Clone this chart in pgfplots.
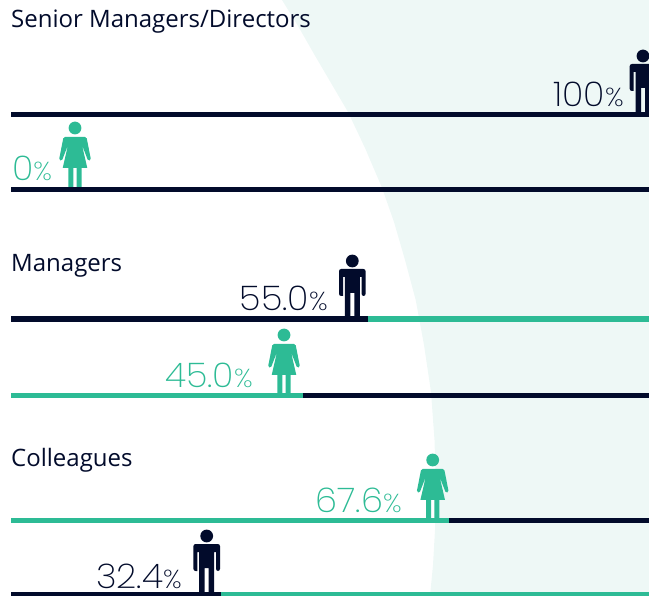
\documentclass[border=0pt]{standalone}
\usepackage{pgfplots}
\pgfplotsset{compat=1.18}
\usepackage{fontspec}
\setmainfont{Open Sans}
\newfontfamily\lightf[FakeStretch=1.04]{Poppins ExtraLight}
\definecolor{navy}{HTML}{020B2B}
\definecolor{teal}{HTML}{2DBB95}
\definecolor{pale}{HTML}{EEF8F6}
% icons with feet at the origin; y up, units in pt (= px)
\pgfdeclareplotmark{man}{%
  \pgfpathcircle{\pgfpoint{0pt}{56pt}}{6.4pt}\pgfusepath{fill}
  \pgfsetcornersarced{\pgfpoint{2.2pt}{2.2pt}}
  \pgfpathmoveto{\pgfpoint{0pt}{48pt}}
  \pgfpathlineto{\pgfpoint{13.3pt}{48pt}}
  \pgfpathlineto{\pgfpoint{13.3pt}{21pt}}
  \pgfpathlineto{\pgfpoint{9.3pt}{21pt}}
  \pgfsetcornersarced{\pgfpointorigin}
  \pgfpathlineto{\pgfpoint{9.3pt}{40pt}}
  \pgfpathlineto{\pgfpoint{7.5pt}{40pt}}
  \pgfpathlineto{\pgfpoint{7.5pt}{-1pt}}
  \pgfpathlineto{\pgfpoint{2pt}{-1pt}}
  \pgfpathlineto{\pgfpoint{2pt}{24pt}}
  \pgfpathlineto{\pgfpoint{-2pt}{24pt}}
  \pgfpathlineto{\pgfpoint{-2pt}{-1pt}}
  \pgfpathlineto{\pgfpoint{-7.5pt}{-1pt}}
  \pgfpathlineto{\pgfpoint{-7.5pt}{40pt}}
  \pgfpathlineto{\pgfpoint{-9.3pt}{40pt}}
  \pgfpathlineto{\pgfpoint{-9.3pt}{21pt}}
  \pgfsetcornersarced{\pgfpoint{2.2pt}{2.2pt}}
  \pgfpathlineto{\pgfpoint{-13.3pt}{21pt}}
  \pgfpathlineto{\pgfpoint{-13.3pt}{48pt}}
  \pgfpathclose\pgfusepath{fill}}
\pgfdeclareplotmark{woman}{%
  \pgfpathcircle{\pgfpoint{0pt}{58pt}}{6.4pt}\pgfusepath{fill}
  \pgfsetcornersarced{\pgfpoint{1.5pt}{1.5pt}}
  \pgfpathmoveto{\pgfpoint{0pt}{49pt}}
  \pgfpathlineto{\pgfpoint{11.5pt}{49pt}}
  \pgfpathlineto{\pgfpoint{16pt}{26pt}}
  \pgfpathlineto{\pgfpoint{13.2pt}{25pt}}
  \pgfsetcornersarced{\pgfpointorigin}
  \pgfpathlineto{\pgfpoint{7pt}{41pt}}
  \pgfpathlineto{\pgfpoint{12.3pt}{18pt}}
  \pgfpathlineto{\pgfpoint{6.7pt}{18pt}}
  \pgfpathlineto{\pgfpoint{6.7pt}{-1pt}}
  \pgfpathlineto{\pgfpoint{1.7pt}{-1pt}}
  \pgfpathlineto{\pgfpoint{1.7pt}{18pt}}
  \pgfpathlineto{\pgfpoint{-1.7pt}{18pt}}
  \pgfpathlineto{\pgfpoint{-1.7pt}{-1pt}}
  \pgfpathlineto{\pgfpoint{-6.7pt}{-1pt}}
  \pgfpathlineto{\pgfpoint{-6.7pt}{18pt}}
  \pgfpathlineto{\pgfpoint{-12.3pt}{18pt}}
  \pgfpathlineto{\pgfpoint{-7pt}{41pt}}
  \pgfsetcornersarced{\pgfpoint{1.5pt}{1.5pt}}
  \pgfpathlineto{\pgfpoint{-13.2pt}{25pt}}
  \pgfpathlineto{\pgfpoint{-16pt}{26pt}}
  \pgfpathlineto{\pgfpoint{-11.5pt}{49pt}}
  \pgfpathclose\pgfusepath{fill}}
\newcommand{\bigpct}[2]{{\color{#1}\lightf\fontsize{34}{34}\selectfont #2{\fontsize{26}{26}\selectfont\%}}}
\begin{document}
\begin{tikzpicture}[x=1pt,y=1pt]
\begin{axis}[name=ax,
  scale only axis, width=649pt, height=596pt,
  xmin=0, xmax=649, ymin=0, ymax=596, y dir=reverse,
  axis lines=none, clip=true, clip mode=global]
% pale background
\addplot[fill=pale,draw=none] coordinates {(282,0)(298,26)(314,54)(331,83)(348,112)(365,148)(381.7,187)(394,222)(405,260)(415.7,300)(424,345)(431,392)(434.5,440)(436,490)(435,530)(433,565)(430,596)(649,596)(649,0)} \closedcycle;
% bars
\addplot[navy,line width=5.5pt] coordinates {(11,114.7)(649,114.7)};
\addplot[navy,line width=5.5pt] coordinates {(11,189.3)(649,189.3)};
\addplot[navy,line width=5.5pt] coordinates {(11,319.2)(367.7,319.2)};
\addplot[teal,line width=5.5pt] coordinates {(367.7,319.2)(649,319.2)};
\addplot[teal,line width=5.5pt] coordinates {(11,395.7)(302.7,395.7)};
\addplot[navy,line width=5.5pt] coordinates {(302.7,395.7)(649,395.7)};
\addplot[teal,line width=5.5pt] coordinates {(11,520.3)(449,520.3)};
\addplot[navy,line width=5.5pt] coordinates {(449,520.3)(649,520.3)};
\addplot[navy,line width=5.5pt] coordinates {(11,594.3)(221,594.3)};
\addplot[teal,line width=5.5pt] coordinates {(221,594.3)(649,594.3)};
% icons
\addplot[only marks,mark=man,color=navy,mark options={fill=navy,draw=none}] coordinates {(643,112)(352.3,317)(206.7,592)};
\addplot[only marks,mark=woman,color=teal,mark options={fill=teal,draw=none}] coordinates {(75,186)(284,393)(432.7,518)};
% labels
\node[anchor=base west,inner sep=0pt,navy,font=\fontsize{24}{24}\selectfont] at (axis cs:11,28) {Senior Managers/Directors};
\node[anchor=base west,inner sep=0pt,navy,font=\fontsize{24}{24}\selectfont] at (axis cs:11,272) {Managers};
\node[anchor=base west,inner sep=0pt,navy,font=\fontsize{24}{24}\selectfont] at (axis cs:11,467) {Colleagues};
\node[anchor=base east,inner sep=0pt] at (axis cs:624,107) {\bigpct{navy}{100}};
\node[anchor=base west,inner sep=0pt] at (axis cs:12,181) {\bigpct{teal}{0}};
\node[anchor=base east,inner sep=0pt] at (axis cs:328,311) {\bigpct{navy}{55.0}};
\node[anchor=base east,inner sep=0pt] at (axis cs:253,388) {\bigpct{teal}{45.0}};
\node[anchor=base east,inner sep=0pt] at (axis cs:402,513) {\bigpct{teal}{67.6}};
\node[anchor=base east,inner sep=0pt] at (axis cs:182,588) {\bigpct{navy}{32.4}};
\end{axis}
\pgfresetboundingbox
\path[use as bounding box] (ax.south west) rectangle (ax.north east);
\end{tikzpicture}
\end{document}
